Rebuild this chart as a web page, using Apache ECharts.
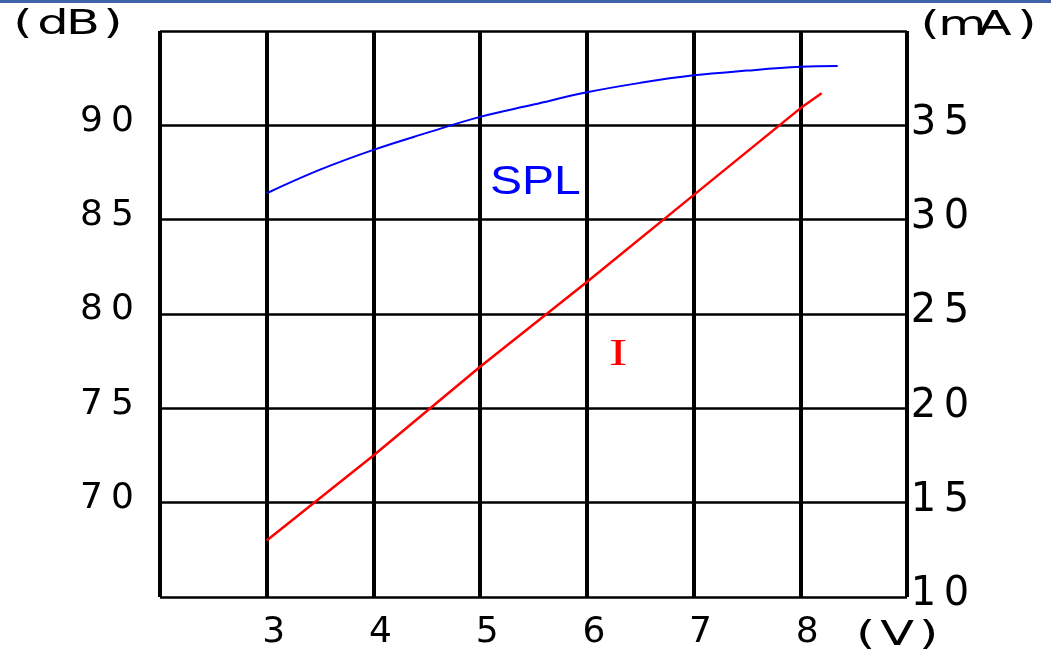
<!DOCTYPE html>
<html>
<head>
<meta charset="utf-8">
<script src="https://cdn.jsdelivr.net/npm/echarts@6/dist/echarts.min.js"></script>
<style>
html,body{margin:0;padding:0;background:#fff;}
#chart{width:1051px;height:651px;}
</style>
</head>
<body>
<div id="chart"></div>
<script>
// Voltage axis ticks (V)
const xTicks = [3, 4, 5, 6, 7, 8];
// Left axis ticks (dB)
const dbTicks = [70, 75, 80, 85, 90];
// Right axis ticks (mA)
const maTicks = [10, 15, 20, 25, 30, 35];

// SPL curve (dB) vs voltage
const splVolts = [3, 3.5, 4, 4.5, 5, 5.5, 6, 6.5, 7, 7.5, 8, 8.35];
const splDb    = [86.4, 87.65, 88.7, 89.6, 90.45, 91.1, 91.75, 92.25, 92.65, 92.9, 93.1, 93.15];

// Current curve (mA) vs voltage
const curVolts = [3, 4, 5, 6, 7, 8, 8.2];
const curMa    = [13.0, 17.5, 22.2, 26.7, 31.3, 35.9, 36.7];

const axisNames = { left: '(dB)', right: '(mA)', bottom: '(V)' };
const seriesNames = { spl: 'SPL', cur: 'I' };

const FONT = 'DejaVu Sans';
function cells(v, key) {
  return String(v).split('').map(c => '{' + key + '|' + c + '}').join('');
}
function cellStyle(size, w) {
  return { fontSize: size, fontFamily: FONT, color: '#000', width: w, align: 'center' };
}

const chart = echarts.init(document.getElementById('chart'), null, { renderer: 'canvas' });

const option = {
  animation: false,
  backgroundColor: '#fff',
  grid: { left: 160, right: 144, top: 31, bottom: 53 },
  xAxis: {
    type: 'value', min: 2, max: 9, interval: 1,
    axisLine: { show: false }, axisTick: { show: false },
    splitLine: { show: true, lineStyle: { color: '#000', width: 4 } },
    axisLabel: {
      customValues: xTicks, margin: 18, padding: [0, 0, 0, 14],
      formatter: v => cells(v, 'b'),
      rich: { b: cellStyle(36, 30) }
    }
  },
  yAxis: [
    {
      type: 'value', min: 65, max: 95, interval: 5, position: 'left',
      axisLine: { show: false }, axisTick: { show: false },
      splitLine: { show: true, lineStyle: { color: '#000', width: 2.5 } },
      axisLabel: {
        customValues: dbTicks, margin: 22, padding: [0, 0, 8, 0],
        formatter: v => cells(v, 'l'),
        rich: { l: cellStyle(36, 31) }
      }
    },
    {
      type: 'value', min: 10, max: 40, interval: 5, position: 'right',
      axisLine: { show: false }, axisTick: { show: false },
      splitLine: { show: false },
      axisLabel: {
        customValues: maTicks, margin: 0, padding: [0, 0, 4, 0],
        formatter: v => cells(v, 'r'),
        rich: { r: cellStyle(40, 33) }
      }
    }
  ],
  series: [
    {
      name: seriesNames.spl, type: 'line', yAxisIndex: 0, smooth: 0.4,
      showSymbol: false, lineStyle: { color: '#0000ff', width: 2 },
      data: splVolts.map((v, i) => [v, splDb[i]])
    },
    {
      name: seriesNames.cur, type: 'line', yAxisIndex: 1, smooth: false,
      showSymbol: false, lineStyle: { color: '#ff0000', width: 2.5 },
      data: curVolts.map((v, i) => [v, curMa[i]])
    }
  ],
  graphic: [
    { type: 'rect', shape: { x: 0, y: 0, width: 1051, height: 3 }, style: { fill: '#4262ab' } },
    { type: 'text', x: 8, y: 25, scaleX: 1.5, style: { text: cells(axisNames.left, 'n'), verticalAlign: 'middle', rich: { n: cellStyle(33, 20) } } },
    { type: 'text', x: 914, y: 26, scaleX: 1.5, style: { text: cells(axisNames.right, 'n'), verticalAlign: 'middle', rich: { n: cellStyle(33, 21.5) } } },
    { type: 'text', x: 850, y: 636, scaleX: 1.5, style: { text: cells(axisNames.bottom, 'n'), verticalAlign: 'middle', rich: { n: cellStyle(33, 21) } } },
    { type: 'text', x: 490, y: 183, scaleX: 1.2, style: { text: seriesNames.spl, fontSize: 40, fontFamily: 'Liberation Sans', fill: '#0000ff', verticalAlign: 'middle' } },
    { type: 'text', x: 609, y: 355, scaleX: 1.45, style: { text: seriesNames.cur, fontSize: 38, fontFamily: 'Liberation Serif', fill: '#ff0000', verticalAlign: 'middle' } }
  ]
};
chart.setOption(option);
</script>
</body>
</html>
